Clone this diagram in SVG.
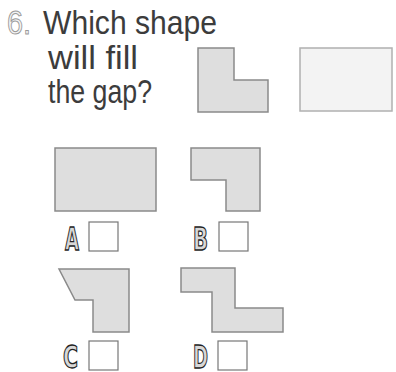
<svg xmlns="http://www.w3.org/2000/svg" width="396" height="372" viewBox="0 0 396 372">
<style>
.title{font-family:"Liberation Sans Narrow","Liberation Sans",sans-serif;font-size:34px;fill:#3c3c3c}
.num{font-family:"Liberation Sans Narrow","Liberation Sans",sans-serif;font-size:34px;fill:#f4f4f4;stroke:#9a9a9a;stroke-width:1}
.shape{fill:#dedede;stroke:#8a8a8a;stroke-width:1.5;stroke-linejoin:miter}
.gap{fill:#f3f3f3;stroke:#b0b0b0;stroke-width:1.5}
.box{fill:#fff;stroke:#777;stroke-width:1.2}
.lbl{font-family:"DejaVu Sans Condensed","DejaVu Sans",sans-serif;font-weight:bold;font-size:32px;fill:#d8d8d8;stroke:#222;stroke-width:1.3}
</style>
<g id="title">
<text class="num" x="7" y="34" textLength="24" lengthAdjust="spacingAndGlyphs">6.</text>
<text class="title" x="43" y="34" textLength="174" lengthAdjust="spacingAndGlyphs">Which shape</text>
<text class="title" x="48" y="69" textLength="90" lengthAdjust="spacingAndGlyphs">will fill</text>
<text class="title" x="48" y="103" textLength="104" lengthAdjust="spacingAndGlyphs">the gap?</text>
</g>
<g id="puzzle">
<path class="shape" d="M198,48 H234 V80 H268 V112 H198 Z"/>
<rect class="gap" x="300" y="48" width="92" height="63"/>
</g>
<g id="optionA">
<rect class="shape" x="55" y="148" width="101" height="63"/>
<text class="lbl" x="65" y="250" textLength="14" lengthAdjust="spacingAndGlyphs">A</text>
<rect class="box" x="89" y="222" width="29" height="29"/>
</g>
<g id="optionB">
<path class="shape" d="M191,148 H260 V211 H226 V180 H191 Z"/>
<text class="lbl" x="193" y="250" textLength="15" lengthAdjust="spacingAndGlyphs">B</text>
<rect class="box" x="219" y="222" width="29" height="29"/>
</g>
<g id="optionC">
<path class="shape" d="M59,269 H129 V332 H93 V300 H75 Z"/>
<text class="lbl" x="63" y="368" textLength="15" lengthAdjust="spacingAndGlyphs">C</text>
<rect class="box" x="89" y="341" width="29" height="29"/>
</g>
<g id="optionD">
<path class="shape" d="M181,268 H235 V308 H283 V332 H212 V292 H181 Z"/>
<text class="lbl" x="193" y="368" textLength="15" lengthAdjust="spacingAndGlyphs">D</text>
<rect class="box" x="218" y="341" width="29" height="29"/>
</g>
</svg>
